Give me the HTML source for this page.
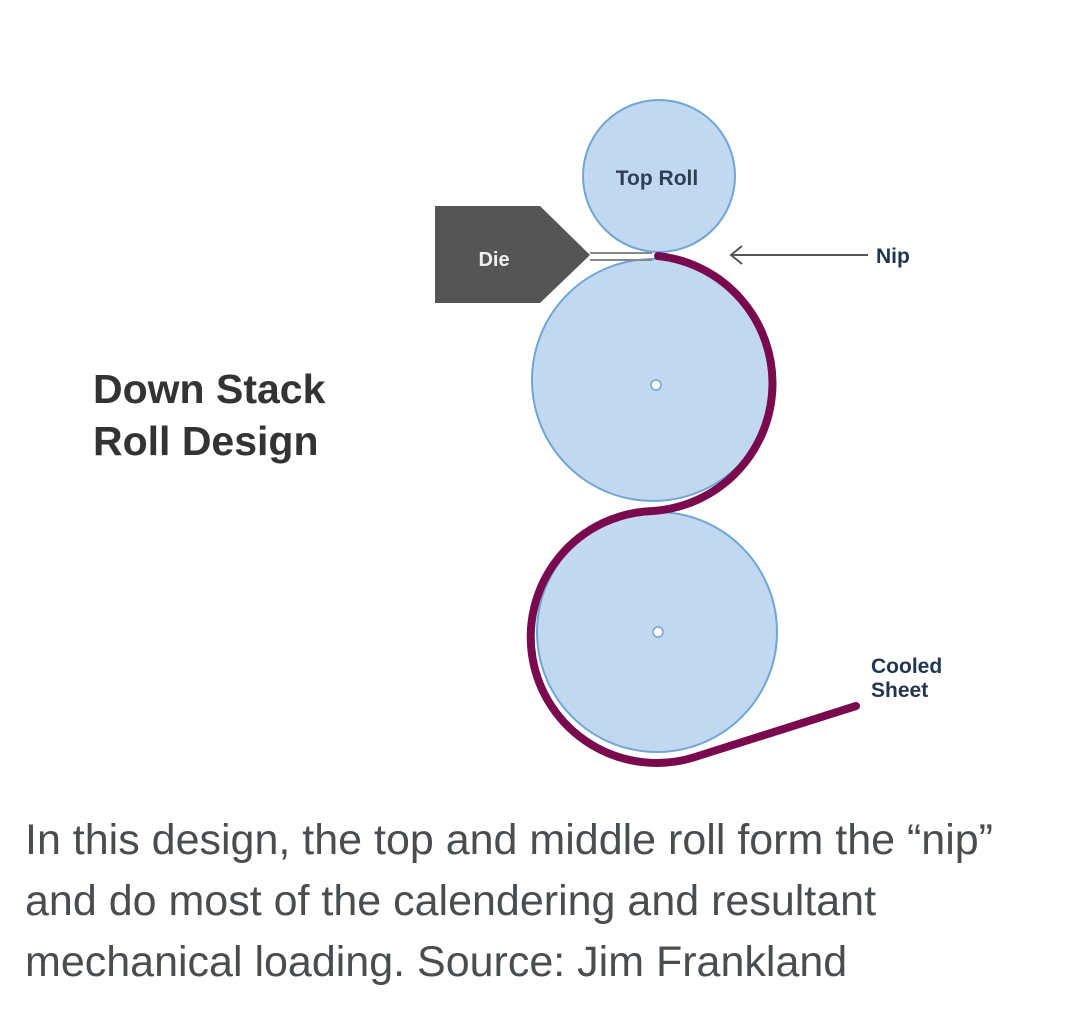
<!DOCTYPE html>
<html><head><meta charset="utf-8"><style>
body{margin:0;width:1080px;height:1024px;background:#fff;overflow:hidden;font-family:"Liberation Sans",sans-serif}
.cap{position:absolute;left:25px;top:810px;font-size:43px;line-height:61px;color:#4a4d50;white-space:nowrap}
</style></head><body>
<svg width="1080" height="800" style="position:absolute;left:0;top:0">
<circle cx="659" cy="176" r="76" fill="#c2d8f0" stroke="#6fa6d3" stroke-width="2"/>
<circle cx="653" cy="380" r="121" fill="#c2d8f0" stroke="#6fa6d3" stroke-width="2"/>
<circle cx="657" cy="632" r="120" fill="#c2d8f0" stroke="#6fa6d3" stroke-width="2"/>
<circle cx="656" cy="385" r="5" fill="#fff" stroke="#6fa6d3" stroke-width="1.5"/>
<circle cx="658" cy="632" r="5" fill="#fff" stroke="#6fa6d3" stroke-width="1.5"/>
<polygon points="435,206 540,206 590,255 540,303 435,303" fill="#555"/>
<line x1="590" y1="253" x2="652" y2="253" stroke="#888" stroke-width="2"/>
<line x1="590" y1="260" x2="652" y2="260" stroke="#888" stroke-width="2"/>
<text x="494" y="266" font-size="20" font-weight="bold" fill="#eee" text-anchor="middle">Die</text>
<text x="657" y="185" font-size="21" font-weight="bold" fill="#2d3f55" text-anchor="middle">Top Roll</text>
<path d="M658,256 A128,128 0 0 1 653,511 A126,126 0 1 0 695,757 L856,706" fill="none" stroke="#7a0a4e" stroke-width="8" stroke-linecap="round"/>
<line x1="732" y1="255" x2="868" y2="255" stroke="#555" stroke-width="2"/>
<polyline points="742,246 731,255 742,264" fill="none" stroke="#555" stroke-width="2"/>
<text x="876" y="263" font-size="21" font-weight="bold" fill="#1f3550">Nip</text>
<text x="871" y="673" font-size="21" font-weight="bold" fill="#1f3550">Cooled</text>
<text x="871" y="697" font-size="21" font-weight="bold" fill="#1f3550">Sheet</text>
<text x="93" y="403" font-size="41" font-weight="bold" fill="#333">Down Stack</text>
<text x="93" y="455" font-size="41" font-weight="bold" fill="#333">Roll Design</text>
</svg>
<div class="cap">In this design, the top and middle roll form the “nip”<br>and do most of the calendering and resultant<br>mechanical loading. Source: Jim Frankland</div>
</body></html>
